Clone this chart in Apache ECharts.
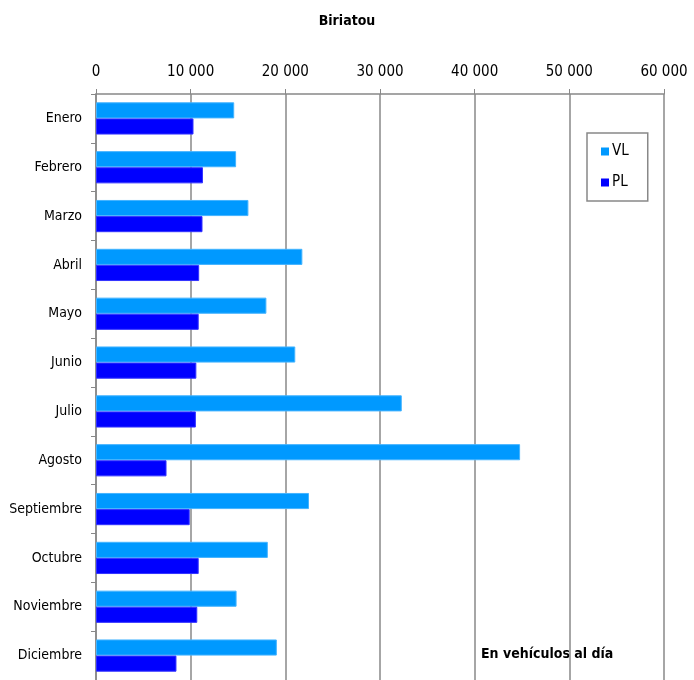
<!DOCTYPE html>
<html lang="es">
<head>
<meta charset="UTF-8">
<title>Biriatou</title>
<script src="https://cdn.jsdelivr.net/npm/echarts@6/dist/echarts.min.js"></script>
<style>
html, body { margin: 0; padding: 0; background: #fff; }
#main { width: 694px; height: 680px; }
</style>
</head>
<body>
<div id="main"></div>
<script>
// datos
var meses = ['Enero', 'Febrero', 'Marzo', 'Abril', 'Mayo', 'Junio', 'Julio', 'Agosto', 'Septiembre', 'Octubre', 'Noviembre', 'Diciembre'];
var vl = [14600, 14800, 16100, 21800, 18000, 21050, 32300, 44800, 22500, 18150, 14850, 19100];
var pl = [10300, 11300, 11250, 10900, 10850, 10600, 10550, 7450, 9900, 10850, 10700, 8500];
var ejeX = [0, 10000, 20000, 30000, 40000, 50000, 60000];

var fuente = '"Liberation Sans Narrow", "DejaVu Sans Condensed", "Liberation Sans", sans-serif';

function miles(v) {
    return String(v).replace(/\B(?=(\d{3})+(?!\d))/g, ' ');
}

var chart = echarts.init(document.getElementById('main'));
chart.setOption({
    animation: false,
    title: {
        text: 'Biriatou',
        left: 'center',
        top: 9,
        textStyle: { fontFamily: fuente, fontSize: 14, fontWeight: 'bold', color: '#000' }
    },
    legend: {
        orient: 'vertical',
        left: 587,
        top: 133,
        padding: [11, 19, 11, 14],
        itemGap: 16,
        itemWidth: 8,
        itemHeight: 8,
        icon: 'rect',
        borderColor: '#888',
        borderWidth: 1.5,
        backgroundColor: '#fff',
        itemStyle: { borderWidth: 0 },
        textStyle: { fontFamily: fuente, fontSize: 15, color: '#000', padding: [0, 0, 0, -2] },
        data: ['VL', 'PL']
    },
    grid: { left: 96, right: 30, top: 94, bottom: -2 },
    xAxis: {
        type: 'value',
        position: 'top',
        min: ejeX[0],
        max: ejeX[ejeX.length - 1],
        interval: 10000,
        axisLine: { show: true, lineStyle: { color: '#888', width: 1.5 } },
        axisTick: { show: true, length: 5, lineStyle: { color: '#888' } },
        splitLine: { show: true, lineStyle: { color: '#888', width: 1.5 } },
        axisLabel: {
            margin: 14,
            fontFamily: fuente, fontSize: 15, color: '#000',
            formatter: function (v) { return miles(v); }
        }
    },
    yAxis: {
        type: 'category',
        inverse: true,
        data: meses,
        axisLine: { show: true, lineStyle: { color: '#888', width: 1.5 } },
        axisTick: { show: true, length: 5, lineStyle: { color: '#888' } },
        axisLabel: { margin: 14, fontFamily: fuente, fontSize: 14, color: '#000' }
    },
    series: [
        {
            name: 'VL', type: 'bar', data: vl,
            barGap: '0%', barCategoryGap: '34%',
            itemStyle: { color: '#0099ff', borderColor: '#44b4ff', borderWidth: 1 }
        },
        {
            name: 'PL', type: 'bar', data: pl,
            barGap: '0%', barCategoryGap: '34%',
            itemStyle: { color: '#0000ff', borderColor: '#3333ff', borderWidth: 1 }
        }
    ],
    graphic: [{
        type: 'text',
        left: 481,
        top: 647,
        style: { text: 'En vehículos al día', font: 'bold 14px ' + fuente, fill: '#000' }
    }]
});
</script>
</body>
</html>
